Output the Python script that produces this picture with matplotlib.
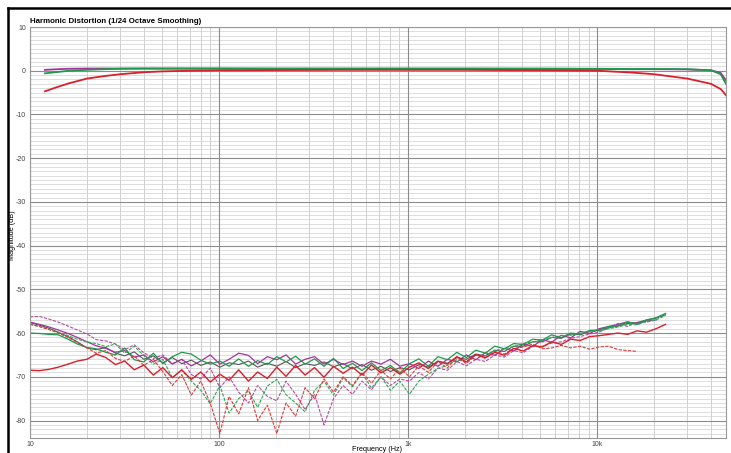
import matplotlib
matplotlib.use("Agg")
import matplotlib.pyplot as plt
from matplotlib.ticker import FixedLocator, NullLocator
from matplotlib.lines import Line2D

plt.rcParams['font.family'] = ['Liberation Sans', 'DejaVu Sans']

# fundamental (upper curves)
f_fund = [12, 14, 16, 20, 25, 30, 40, 50, 70, 100, 200, 500, 1000, 2000,
          5000, 10000, 15000, 20000, 30000, 40000, 45000, 48000]
red_fund = [-4.7, -3.7, -2.9, -1.8, -1.2, -0.8, -0.35, -0.15, 0.0, 0.1, 0.15, 0.2,
            0.2, 0.2, 0.1, 0.0, -0.4, -0.8, -1.8, -3.0, -4.2, -5.6]
green_fund = [-0.6, -0.3, 0.0, 0.2, 0.35, 0.45, 0.5, 0.5, 0.5, 0.5, 0.5, 0.5,
              0.5, 0.5, 0.5, 0.45, 0.4, 0.4, 0.35, 0.1, -0.8, -3.0]
magenta_fund = [0.2, 0.35, 0.45, 0.5, 0.5, 0.5, 0.5, 0.5, 0.5, 0.5, 0.45, 0.45,
                0.45, 0.45, 0.4, 0.4, 0.35, 0.35, 0.3, 0.1, -0.5, -2.2]

# distortion curves, 1/6 octave points
freq = [10, 11.2, 12.6, 14.1, 15.9, 17.8, 20, 22.4, 25.2, 28.3,
        31.7, 35.6, 40, 44.9, 50.4, 56.6, 63.5, 71.3, 80, 89.8,
        101, 113, 127, 143, 160, 180, 202, 226, 254, 285,
        320, 359, 403, 453, 508, 570, 640, 718, 806, 905,
        1016, 1140, 1280, 1437, 1613, 1810, 2032, 2281, 2560, 2874,
        3225, 3620, 4064, 4561, 5120, 5747, 6451, 7241, 8128, 9123,
        10240, 11494, 12902, 14482, 16255, 18245, 20480, 22988]

red_h2 = [-68.5, -68.6, -68.3, -67.8, -67.1, -66.4, -66.0, -64.8, -65.6, -67.2,
          -66.4, -68.4, -67.3, -69.6, -67.9, -70.2, -68.4, -70.6, -68.9, -71.2,
          -69.4, -70.8, -68.4, -71.0, -68.9, -70.4, -67.8, -69.9, -67.4, -69.6,
          -67.9, -70.1, -67.6, -69.2, -67.8, -69.6, -67.3, -69.1, -67.9, -69.4,
          -67.8, -66.8, -68.1, -66.4, -67.1, -65.4, -66.6, -64.9, -65.6, -64.4,
          -65.1, -63.5, -64.1, -62.9, -63.2, -62.0, -62.6, -61.4, -61.7, -60.8,
          -60.6, -60.3, -60.0, -60.3, -59.5, -59.8, -59.0, -58.0]

red_h3 = [-58.0, -58.5, -59.2, -60.0, -61.0, -62.2, -63.4, -64.6, -64.0, -65.8,
          -66.5, -65.2, -67.4, -66.0, -68.8, -72.0, -69.5, -74.2, -71.0, -76.0,
          -83.0, -74.5, -78.5, -72.5, -80.0, -76.5, -83.0, -76.0, -79.0, -72.5,
          -75.0, -70.5, -73.5, -70.0, -72.0, -69.0, -71.5, -68.5, -70.5, -68.0,
          -70.0, -67.5, -69.0, -66.5, -68.0, -65.5, -67.0, -65.0, -65.8, -64.2,
          -64.8, -63.5, -63.2, -62.5, -63.6, -63.4, -62.8, -63.4, -63.0, -63.7,
          -63.2, -63.0, -63.8, -64.0, -64.2]

green_h2 = [-60.0, -60.1, -60.3, -60.4, -61.4, -62.5, -63.3, -63.6, -64.4, -65.0,
            -63.4, -66.1, -66.6, -64.6, -67.0, -65.4, -64.4, -64.8, -66.2, -67.1,
            -66.4, -67.6, -65.9, -67.6, -66.3, -67.2, -65.4, -66.6, -65.3, -67.1,
            -65.9, -67.6, -65.8, -68.1, -66.9, -68.6, -66.8, -68.6, -67.4, -69.1,
            -67.0, -65.9, -67.6, -65.4, -66.1, -64.4, -65.6, -63.9, -64.6, -63.0,
            -63.6, -62.4, -62.6, -61.4, -61.6, -60.4, -61.1, -60.0, -60.3, -59.4,
            -59.3, -58.5, -58.3, -57.5, -57.9, -57.0, -56.5, -55.5]

green_h3 = [-58.0, -58.5, -59.1, -59.8, -60.6, -61.4, -62.0, -62.4, -63.1, -62.5,
            -64.6, -63.0, -65.2, -67.1, -66.0, -70.2, -68.5, -71.0, -73.1, -76.2,
            -72.0, -78.3, -75.0, -73.2, -77.0, -72.1, -70.6, -74.1, -76.0, -78.0,
            -73.1, -71.0, -74.2, -70.2, -72.3, -69.1, -72.6, -70.0, -73.1, -71.0,
            -74.0, -71.0, -69.4, -68.1, -67.4, -66.1, -66.6, -65.0, -65.2, -64.0,
            -63.6, -63.1, -62.4, -62.0, -61.6, -61.0, -60.6, -60.5, -60.0, -59.6,
            -59.5, -59.0, -58.6, -58.0, -58.1, -57.3, -57.0, -56.0]

magenta_h2 = [-57.5, -58.0, -58.6, -59.3, -60.1, -61.0, -62.0, -62.9, -63.5, -64.4,
              -64.0, -65.5, -65.0, -66.6, -65.4, -67.1, -66.0, -67.5, -66.4, -65.0,
              -67.1, -66.0, -64.6, -65.1, -67.0, -65.4, -66.1, -65.0, -67.1, -66.0,
              -65.4, -67.1, -66.0, -67.2, -66.4, -67.6, -66.4, -67.1, -66.0, -67.6,
              -67.0, -68.1, -66.4, -67.6, -66.0, -66.6, -65.0, -66.1, -64.5, -65.1,
              -63.5, -64.1, -62.5, -63.1, -61.5, -62.1, -60.5, -61.1, -59.6, -60.1,
              -59.0, -58.5, -58.0, -57.4, -58.0, -57.2, -57.0]

magenta_h3 = [-56.3, -56.2, -56.8, -57.5, -58.4, -59.3, -60.2, -61.5, -61.8, -62.5,
              -63.8, -62.7, -64.5, -65.8, -65.0, -67.0, -66.0, -69.5, -70.5, -68.0,
              -72.5, -70.0, -73.5, -76.0, -72.0, -74.5, -75.5, -71.0, -74.0, -77.5,
              -74.0, -81.0, -75.0, -72.0, -74.0, -71.0, -73.0, -70.0, -72.0, -70.5,
              -71.0, -69.0, -70.5, -68.0, -68.5, -66.5, -67.5, -66.0, -66.5, -65.0,
              -65.5, -64.0, -64.5, -63.0, -63.0, -62.3, -62.0, -61.2, -60.8, -60.2,
              -59.8, -58.8, -57.8, -58.5, -57.5, -57.5, -57.0]

gray_h2 = [-57.6, -58.2, -58.9, -59.8, -60.8, -62.0, -63.4, -63.8, -63.3, -64.6,
           -65.2, -64.3, -66.0, -65.2, -66.8, -65.6, -67.0, -66.2, -67.4, -66.6,
           -67.8, -66.8, -67.2, -66.4, -67.8, -66.9, -67.6, -66.5, -67.9, -67.0,
           -67.4, -66.6, -67.7, -67.0, -68.2, -67.2, -68.5, -67.6, -68.8, -67.9,
           -68.4, -67.2, -67.8, -66.5, -66.9, -65.6, -66.0, -64.8, -65.2, -63.9,
           -64.2, -63.0, -63.0, -62.0, -62.0, -61.0, -61.2, -60.2, -60.4, -59.6,
           -59.4, -58.8, -58.4, -57.8, -57.6, -57.0, -56.6, -55.8]

x_ticks = [10, 100, 1000, 10000]
x_labels = ['10', '100', '1k', '10k']
y_ticks = list(range(-80, 11, 10))

c_red = '#d9202c'
c_green = '#1f9a4c'
c_magenta = '#a8329c'
c_gray = '#555555'

fig = plt.figure(figsize=(7.31, 4.53), dpi=100)
ax = fig.add_axes([30 / 731, 1 - 438 / 453, 696 / 731, 411 / 453])

ax.set_xscale('log')
ax.set_xlim(10, 48000)
ax.set_ylim(-84, 10)

# grid, minor first then major on top
for v in range(-84, 11):
    if v % 10:
        ax.axhline(v, color='#d8d8d8', lw=0.6, zorder=0.5)
for d in x_ticks:
    for m in range(2, 10):
        if m * d <= 48000:
            ax.axvline(m * d, color='#d0d0d0', lw=0.7, zorder=0.6)
for v in y_ticks:
    ax.axhline(v, color='#8c8c8c', lw=0.8, zorder=0.7)
for d in x_ticks:
    ax.axvline(d, color='#8c8c8c', lw=0.8, zorder=0.7)

ax.xaxis.set_major_locator(FixedLocator(x_ticks))
ax.xaxis.set_minor_locator(NullLocator())
ax.set_xticklabels(x_labels)
ax.yaxis.set_major_locator(FixedLocator(y_ticks))
ax.yaxis.set_minor_locator(NullLocator())
ax.set_yticklabels([str(v) for v in y_ticks])
ax.tick_params(which='both', length=0, labelsize=5, labelcolor='#444444')
ax.tick_params(axis='x', pad=2)
ax.tick_params(axis='y', pad=3)
for s in ax.spines.values():
    s.set_color('#999999')
    s.set_linewidth(0.8)

# distortion curves
dash = (0, (3, 1.2))
ax.plot(freq[:len(gray_h2)], gray_h2, color=c_gray, lw=0.8)
ax.plot(freq[:len(magenta_h3)], magenta_h3, color='#b84aa6', lw=0.8, ls=dash)
ax.plot(freq[:len(magenta_h2)], magenta_h2, color=c_magenta, lw=0.9)
ax.plot(freq[:len(green_h3)], green_h3, color='#2fa85a', lw=0.8, ls=dash)
ax.plot(freq[:len(green_h2)], green_h2, color=c_green, lw=0.9)
ax.plot(freq[:len(red_h3)], red_h3, color='#e03a3a', lw=0.8, ls=dash)
ax.plot(freq[:len(red_h2)], red_h2, color=c_red, lw=1.0)

# fundamentals
ax.plot(f_fund, magenta_fund, color=c_magenta, lw=1.3)
ax.plot(f_fund, green_fund, color=c_green, lw=1.3)
ax.plot(f_fund, red_fund, color=c_red, lw=1.3)

fig.text(377 / 731, 1 - 449.5 / 453, 'Frequency (Hz)', fontsize=5.2, ha='center', va='center')
fig.text(12.5 / 731, 1 - 235 / 453, 'Magnitude (dB)', fontsize=5.2, ha='center', va='center',
         rotation=90)
ax.text(0, 1.004, 'Harmonic Distortion (1/24 Octave Smoothing)', transform=ax.transAxes,
        fontsize=5.7, fontweight='bold', ha='left', va='bottom')

# outer frame (left and top edges)
fig.add_artist(Line2D([8 / 731, 8 / 731], [0, 1 - 8 / 453], transform=fig.transFigure,
                      color='black', lw=1.8))
fig.add_artist(Line2D([8 / 731, 1], [1 - 8 / 453, 1 - 8 / 453], transform=fig.transFigure,
                      color='black', lw=1.8))

fig.savefig('out.png', dpi=100)
